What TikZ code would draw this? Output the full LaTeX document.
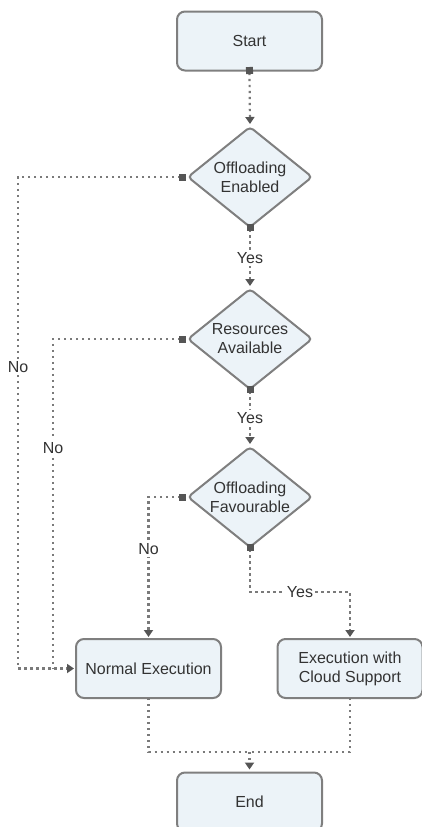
\documentclass[tikz,border=0pt]{standalone}
\usepackage{fontspec}
\setmainfont{Liberation Sans}
\usetikzlibrary{shapes.geometric,arrows.meta}
\definecolor{boxfill}{HTML}{ECF3F8}
\definecolor{boxline}{HTML}{7F7F7F}
\definecolor{dotc}{HTML}{7A7A7A}
\definecolor{tipc}{HTML}{555555}
\definecolor{txt}{HTML}{333333}
\tikzset{
  sq/.tip={Square[length=7pt,width=7pt,color=tipc]},
  tri/.tip={Triangle[width=9pt,length=7pt,color=tipc]}
}
\begin{document}
\begin{tikzpicture}[x=1pt,y=-1pt,
  box/.style={draw=boxline, line width=2pt, fill=boxfill, rounded corners=8pt,
    minimum width=145pt, minimum height=59pt, inner sep=0pt, outer sep=0pt,
    align=center, text=txt, font=\fontsize{16}{19}\selectfont},
  dec/.style={diamond, aspect=1.24, draw=boxline, line width=2pt, fill=boxfill,
    rounded corners=4pt, minimum width=124pt, minimum height=100pt,
    inner sep=0pt, outer sep=0pt, align=center, text=txt,
    font=\fontsize{16}{19}\selectfont},
  conn/.style={draw=dotc, line width=2.2pt, dash pattern=on 2.2pt off 3.8pt},
  lbl/.style={fill=white, inner sep=2pt, text=txt, font=\fontsize{16}{19}\selectfont}]
\useasboundingbox (0,0) rectangle (422,827);

\node[box] (start) at (249.5,41) {Start};
\node[dec] (d1) at (250,177) {Offloading\\Enabled};
\node[dec] (d2) at (250,339) {Resources\\Available};
\node[dec] (d3) at (250,497) {Offloading\\Favourable};
\node[box] (normal) at (148.5,668.5) {Normal Execution};
\node[box] (cloud) at (350,668.5) {Execution with\\Cloud Support};
\node[box] (end) at (249.5,802) {End};

\coordinate (xa) at (18,670);
\coordinate (xb) at (53,670);
\coordinate (jy) at (350,592);
\coordinate (jb) at (249.5,752);

\draw[conn, sq-tri, shorten <=-3.5pt, shorten >=3pt] (start.south) -- (d1.north);
\draw[conn, sq-tri, shorten <=2pt, shorten >=2pt]
  (d1.west) -- (d1.west -| xa) -- node[lbl,pos=0.387]{No} (xa |- normal.west) -- (normal.west);
\draw[conn, sq-, shorten <=2pt]
  (d2.west) -- (d2.west -| xb) -- node[lbl,pos=0.33]{No} (xb |- normal.west);
\draw[conn, sq-tri, shorten <=-3.5pt, shorten >=3pt] (d1.south) -- node[lbl]{Yes} (d2.north);
\draw[conn, sq-tri, shorten <=-3.5pt, shorten >=3pt] (d2.south) -- node[lbl]{Yes} (d3.north);
\draw[conn, sq-tri, shorten <=2pt, shorten >=2pt]
  (d3.west) -- (d3.west -| normal.north) -- node[lbl,pos=0.37]{No} (normal.north);
\draw[conn, sq-tri, shorten <=-3.5pt, shorten >=2pt]
  (d3.south) -- (d3.south |- jy) -- node[lbl]{Yes} (jy) -- (cloud.north);
\draw[conn] (normal.south) |- (jb);
\draw[conn] (cloud.south) |- (jb);
\draw[conn, -tri, shorten >=3pt] (jb) -- (end.north);
\end{tikzpicture}
\end{document}
